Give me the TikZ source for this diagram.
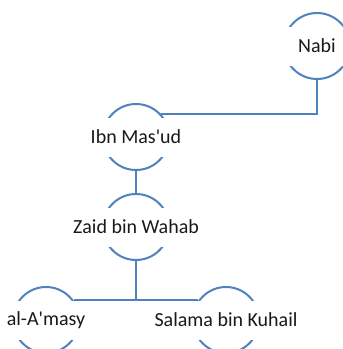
\documentclass[tikz,border=0pt]{standalone}
\usepackage{fontspec}
\setmainfont{Carlito}[Ligatures=TeXOff]
\usepackage{tikz}
\usetikzlibrary{positioning,calc}

\definecolor{linkblue}{RGB}{79,129,189}

\begin{document}
\begin{tikzpicture}[
    x=1pt, y=-1pt,
    person/.style={circle, draw=linkblue, line width=2pt, minimum size=66pt, inner sep=0pt},
    nametag/.style={fill=white, minimum width=72pt, minimum height=39pt, inner sep=2pt, text=black!90, font=\fontsize{20}{24}\selectfont},
    link/.style={draw=linkblue, line width=2pt}
]
    \useasboundingbox (0,0) rectangle (343,349);

    \node[person] (nabi) at (317,46) {};
    \node[person] (ibn) at (136,137) {};
    \node[person] (zaid) at (136,227) {};
    \node[person] (amasy) at (46,320) {};
    \node[person] (salama) at (226,320) {};

    \draw[link] (nabi.south) |- (ibn.42);
    \draw[link] (ibn.south) -- (zaid.north);
    \draw[link] (zaid.south) |- (amasy.36);
    \draw[link] (zaid.south) |- (salama.144);

    \node[nametag] (nabi-t) at (nabi) {Nabi};
    \node[nametag] (ibn-t) at (ibn) {Ibn Mas'ud};
    \node[nametag] (zaid-t) at (zaid) {Zaid bin Wahab};
    \node[nametag] (amasy-t) at (amasy) {al-A'masy};
    \node[nametag] (salama-t) at (salama) {Salama bin Kuhail};
\end{tikzpicture}
\end{document}
